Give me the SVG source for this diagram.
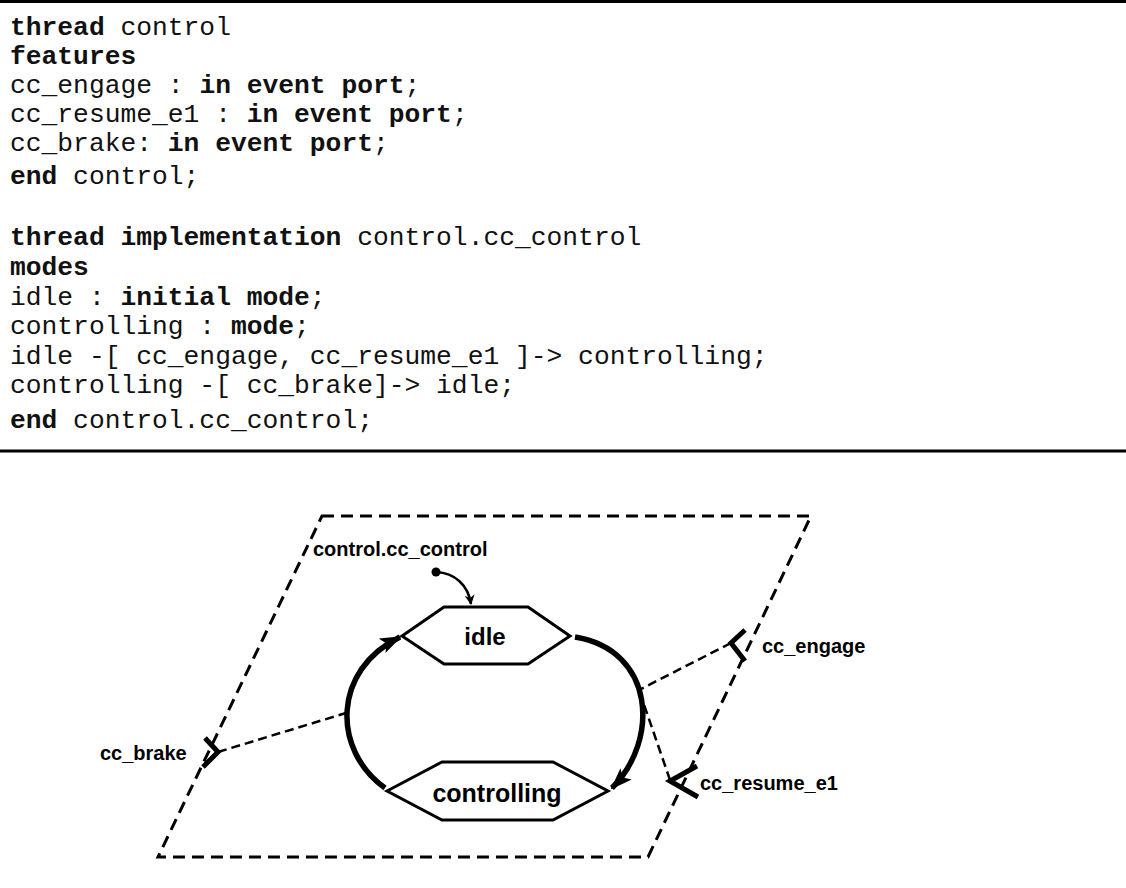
<svg xmlns="http://www.w3.org/2000/svg" width="1126" height="888" viewBox="0 0 1126 888">
<style>
.code{font-family:"Liberation Mono","Courier New",monospace;font-size:26.3px;fill:#111}
.b{font-weight:bold}
.lbl{font-family:"Liberation Sans",Arial,sans-serif;font-weight:bold;fill:#000}
.rule{stroke:#000;stroke-width:3}
.frame{fill:none;stroke:#000;stroke-width:3;stroke-dasharray:12 7}
.hex{fill:#fff;stroke:#000;stroke-width:3;stroke-linejoin:miter}
.trans{fill:none;stroke:#000;stroke-width:5.5}
.conn{fill:none;stroke:#000;stroke-width:2.5;stroke-dasharray:9 5}
.port{fill:none;stroke:#000;stroke-width:5;stroke-linejoin:miter}
</style>
<defs>
<marker id="bigArrow" markerUnits="userSpaceOnUse" viewBox="0 0 22 16" refX="20" refY="8" markerWidth="22" markerHeight="16" orient="auto">
<path d="M0,0 L22,8 L0,16 L5,8 z" fill="#000"/>
</marker>
<marker id="smallArrow" markerUnits="userSpaceOnUse" viewBox="0 0 10 10" refX="9" refY="5" markerWidth="10" markerHeight="10" orient="auto">
<path d="M0,0 L10,5 L0,10 L3,5 z" fill="#000"/>
</marker>
</defs>
<rect width="1126" height="888" fill="#fff"/>

<g id="code">
<line class="rule" x1="0" y1="1.5" x2="1126" y2="1.5"/>
<line class="rule" x1="0" y1="451" x2="1126" y2="451"/>
<text class="code" x="10" y="35"><tspan class="b">thread</tspan> control</text>
<text class="code" x="10" y="64"><tspan class="b">features</tspan></text>
<text class="code" x="10" y="93">cc_engage : <tspan class="b">in event port</tspan>;</text>
<text class="code" x="10" y="122">cc_resume_e1 : <tspan class="b">in event port</tspan>;</text>
<text class="code" x="10" y="151">cc_brake: <tspan class="b">in event port</tspan>;</text>
<text class="code" x="10" y="184"><tspan class="b">end</tspan> control;</text>
<text class="code" x="10" y="245"><tspan class="b">thread implementation</tspan> control.cc_control</text>
<text class="code" x="10" y="275"><tspan class="b">modes</tspan></text>
<text class="code" x="10" y="305">idle : <tspan class="b">initial mode</tspan>;</text>
<text class="code" x="10" y="334">controlling : <tspan class="b">mode</tspan>;</text>
<text class="code" x="10" y="364">idle -[ cc_engage, cc_resume_e1 ]-&gt; controlling;</text>
<text class="code" x="10" y="393">controlling -[ cc_brake]-&gt; idle;</text>
<text class="code" x="10" y="428"><tspan class="b">end</tspan> control.cc_control;</text>
</g>

<g id="thread-frame">
<polygon class="frame" points="322,516 811,516 648,857 158,857"/>
<text class="lbl" x="313" y="556" font-size="20">control.cc_control</text>
</g>

<g id="connectors">
<circle cx="436" cy="572" r="4.5" fill="#000"/>
<path d="M436,572 C455,573 468,585 471,604" fill="none" stroke="#000" stroke-width="2.5" marker-end="url(#smallArrow)"/>
<path class="trans" d="M385,788 C332,750 332,670 400,637" marker-end="url(#bigArrow)"/>
<path class="trans" d="M575,637 C655,650 660,740 612,788" marker-end="url(#bigArrow)"/>
<path class="conn" d="M218,752 L346,713"/>
<path class="conn" d="M731,643 L639,690"/>
<path class="conn" d="M670,780 L639,690"/>
</g>

<g id="idle">
<polygon class="hex" points="402,636 444,607 528,607 570,636 528,664 444,664"/>
<text class="lbl" x="485" y="645" font-size="24" text-anchor="middle">idle</text>
</g>

<g id="controlling">
<polygon class="hex" points="387,791 442,762 553,762 608,791 553,820 442,820"/>
<text class="lbl" x="497" y="802" font-size="25" text-anchor="middle">controlling</text>
</g>

<g id="port-cc_brake">
<polyline class="port" points="205,738 218,752 203,767"/>
<text class="lbl" x="100" y="760" font-size="20">cc_brake</text>
</g>

<g id="port-cc_engage">
<polyline class="port" points="745,630 731,643 745,661"/>
<text class="lbl" x="762" y="653" font-size="20">cc_engage</text>
</g>

<g id="port-cc_resume_e1">
<polyline class="port" points="697,766 670,781 698,797"/>
<text class="lbl" x="700" y="790" font-size="20">cc_resume_e1</text>
</g>
</svg>
